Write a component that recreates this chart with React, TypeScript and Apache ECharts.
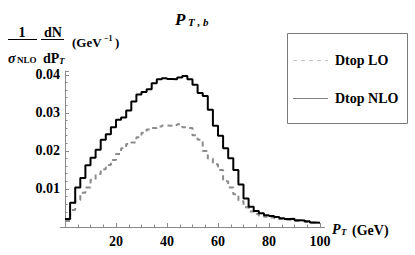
import React, { useEffect, useRef } from "react";
import * as echarts from "echarts";

const binEdges = [
  0, 2, 4, 6, 8, 10, 12, 14, 16, 18, 20, 22, 24, 26, 28, 30, 32, 34, 36, 38, 40,
  42, 44, 46, 48, 50, 52, 54, 56, 58, 60, 62, 64, 66, 68, 70, 72, 74, 76, 78, 80,
  82, 84, 86, 88, 90, 92, 94, 96, 98, 100,
];

const nloValues = [
  0.0021, 0.0064, 0.0104, 0.0129, 0.0162, 0.0182, 0.0203, 0.0229, 0.0244, 0.0262,
  0.0282, 0.0288, 0.0306, 0.033, 0.0348, 0.0355, 0.0362, 0.0378, 0.0388, 0.0391,
  0.0389, 0.0388, 0.0393, 0.0397, 0.0388, 0.0374, 0.0352, 0.0344, 0.0308, 0.0266,
  0.024, 0.0207, 0.0181, 0.015, 0.0112, 0.0075, 0.0053, 0.0042, 0.0036, 0.0031,
  0.0029, 0.0026, 0.0023, 0.0021, 0.0022, 0.0018, 0.0017, 0.0015, 0.0012, 0.0011,
];

const loValues = [
  0.0016, 0.0045, 0.0071, 0.009, 0.0104, 0.0124, 0.0139, 0.0152, 0.0163, 0.0176,
  0.0192, 0.0207, 0.0218, 0.0222, 0.0236, 0.0248, 0.0256, 0.026, 0.0264, 0.0267,
  0.0266, 0.0268, 0.027, 0.0262, 0.026, 0.0241, 0.0229, 0.02, 0.018, 0.0165,
  0.015, 0.012, 0.0104, 0.0086, 0.0068, 0.0052, 0.0041, 0.0034, 0.003, 0.0027,
  0.0025, 0.0023, 0.0021, 0.0019, 0.0018, 0.0016, 0.0015, 0.0013, 0.0011, 0.001,
];

const xTickLabels = [20, 40, 60, 80, 100];
const yTickLabels = [0.01, 0.02, 0.03, 0.04];

const seriesNames = ["Dtop LO", "Dtop NLO"];

const SERIF = "Liberation Serif";

function histData(values: number[]) {
  return binEdges.map((e, i) => [e, values[Math.min(i, values.length - 1)]]);
}

function txt(
  text: string,
  x: number,
  y: number,
  size: number,
  opts: { italic?: boolean; align?: string } = {}
) {
  const font = `${opts.italic ? "italic " : ""}bold ${size}px "${SERIF}"`;
  const align = opts.align || "left";
  return {
    type: "text",
    x,
    y,
    silent: true,
    style: {
      text,
      font,
      fill: "#000",
      align,
      verticalAlign: "middle",
      textAlign: align,
      textVerticalAlign: "middle",
    },
  };
}

function hline(x1: number, x2: number, y: number, color = "#000", dash?: number[]) {
  return {
    type: "line",
    silent: true,
    shape: { x1, y1: y, x2, y2: y },
    style: { stroke: color, lineWidth: 1, lineDash: dash || null },
  };
}

export default function App() {
  const ref = useRef<HTMLDivElement>(null);

  useEffect(() => {
    if (!ref.current) return;
    const chart = echarts.init(ref.current, undefined, { renderer: "svg" });
    const axisColor = "#8a8a8a";
    const option: any = {
      animation: false,
      backgroundColor: "#fff",
      grid: { left: 65, right: 95, top: 71, bottom: 28, containLabel: false },
      xAxis: {
        type: "value",
        min: 0,
        max: 100,
        interval: 20,
        axisLine: { show: true, onZero: false, lineStyle: { color: axisColor, width: 1 } },
        axisTick: { show: true, inside: true, length: 4, lineStyle: { color: axisColor } },
        minorTick: { show: true, splitNumber: 4, length: 2.5, lineStyle: { color: axisColor } },
        splitLine: { show: false },
        axisLabel: {
          margin: 7,
          fontFamily: SERIF,
          fontWeight: "bold",
          fontSize: 14,
          color: "#000",
          formatter: (v: number) =>
            xTickLabels.indexOf(Math.round(v)) >= 0 && Math.abs(v - Math.round(v)) < 1e-9
              ? String(Math.round(v))
              : "",
        },
      },
      yAxis: {
        type: "value",
        min: 0,
        max: 0.041,
        interval: 0.01,
        axisLine: { show: true, onZero: false, lineStyle: { color: axisColor, width: 1 } },
        axisTick: { show: true, inside: true, length: 4, lineStyle: { color: axisColor } },
        minorTick: { show: true, splitNumber: 5, length: 2.5, lineStyle: { color: axisColor } },
        splitLine: { show: false },
        axisLabel: {
          margin: 5,
          fontFamily: SERIF,
          fontWeight: "bold",
          fontSize: 14,
          color: "#000",
          formatter: (v: number) => {
            const hit = yTickLabels.find((t) => Math.abs(t - v) < 1e-9);
            return hit !== undefined ? hit.toFixed(2) : "";
          },
        },
      },
      series: [
        {
          name: seriesNames[0],
          type: "line",
          step: "end",
          symbol: "none",
          showSymbol: false,
          data: histData(loValues),
          lineStyle: { color: "#8c8c8c", width: 2, type: [5, 4] },
          itemStyle: { color: "#8c8c8c" },
          z: 2,
        },
        {
          name: seriesNames[1],
          type: "line",
          step: "end",
          symbol: "none",
          showSymbol: false,
          data: histData(nloValues),
          lineStyle: { color: "#000", width: 2 },
          itemStyle: { color: "#000" },
          z: 3,
        },
      ],
      graphic: [
        // axis line extensions
        hline(60, 65, 227.5, axisColor),
        hline(320, 325, 227.5, axisColor),
        // legend box
        {
          type: "rect",
          silent: true,
          shape: { x: 287.5, y: 33.5, width: 120, height: 90 },
          style: { fill: "#fff", stroke: "#7a7a7a", lineWidth: 1 },
        },
        hline(293, 328, 60.5, "#c4c4c4", [4, 4]),
        txt(seriesNames[0], 335, 60, 14),
        hline(293, 328, 98.5, "#808080"),
        txt(seriesNames[1], 335, 98, 14),
        // title P_{T,b}
        txt("P", 175, 19, 17, { italic: true }),
        txt("T , b", 188, 22, 11, { italic: true }),
        // y-axis label
        txt("1", 22, 32, 14, { align: "center" }),
        hline(8, 37, 39.5),
        txt("σ", 8, 58, 14, { italic: true }),
        txt("NLO", 17, 60, 9),
        txt("dN", 53, 32, 14, { align: "center" }),
        hline(41, 64, 39.5),
        txt("dP", 43, 58, 14),
        txt("T", 59, 61, 9, { italic: true }),
        txt("(GeV", 72, 42, 13),
        txt("−1", 104, 38, 8),
        txt(")", 115, 42, 13),
        // x-axis label
        txt("P", 332, 229, 14, { italic: true }),
        txt("T", 341, 232, 9, { italic: true }),
        txt("(GeV)", 352, 230, 14),
      ],
    };
    chart.setOption(option);
    return () => chart.dispose();
  }, []);

  return (
    <div
      ref={ref}
      style={{ position: "fixed", left: 0, top: 0, width: 415, height: 255, background: "#fff" }}
    />
  );
}
